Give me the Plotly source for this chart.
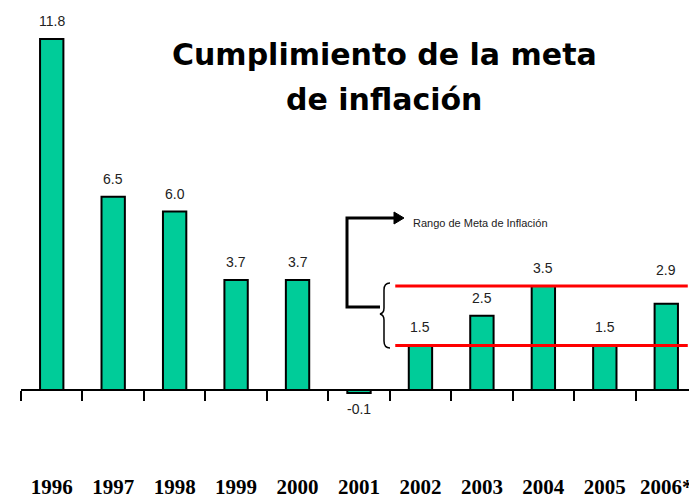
import plotly.graph_objects as go

# ---- data ----
years = ["1996", "1997", "1998", "1999", "2000", "2001", "2002", "2003", "2004", "2005", "2006*"]
inflation = [11.8, 6.5, 6.0, 3.7, 3.7, -0.1, 1.5, 2.5, 3.5, 1.5, 2.9]
target_low = 1.5
target_high = 3.5
title_lines = ["Cumplimiento de la meta", "de inflación"]
range_label = "Rango de Meta de Inflación"

# ---- layout geometry (pixels of the 697x501 page; the page body has an 8px margin) ----
OFF = 8
FIG_W, FIG_H = 697 - OFF, 501 - OFF
M_L, M_R, M_T, M_B = 21 - OFF, 0, 0, 102
PW = FIG_W - M_L - M_R
PH = FIG_H - M_T - M_B
Y_MIN, Y_MAX = -0.3, 12.84


def px_x(px):
    return (px - OFF - M_L) / PW


def px_y(py):
    return (M_T + PH - (py - OFF)) / PH


fig = go.Figure()
fig.add_trace(go.Bar(
    x=years, y=inflation, width=0.38,
    marker=dict(color="#00CC99", line=dict(color="black", width=2)),
    hoverinfo="x+y", showlegend=False,
))

LABEL_FONT = "Liberation Sans Narrow, Arial Narrow, Liberation Sans, Arial"

# value labels
annotations = []
for i, (yr, v) in enumerate(zip(years, inflation)):
    if v < 0:
        shift = -16
    elif yr == "2006*":
        shift = 34
    else:
        shift = 18
    annotations.append(dict(
        x=i, y=v, xref="x", yref="y", text=f"{v:.1f}", showarrow=False,
        yshift=shift, yanchor="middle",
        font=dict(family=LABEL_FONT, size=14, color="#222222"),
    ))

# title
for line, py in zip(title_lines, (54, 99)):
    annotations.append(dict(x=px_x(384), y=px_y(py), xref="paper", yref="paper", text=f"<b>{line}</b>",
                            showarrow=False, yanchor="middle", xanchor="center",
                            font=dict(family="DejaVu Sans", size=30, color="black")))
# range label
annotations.append(dict(x=px_x(411), y=px_y(223), xref="paper", yref="paper", text=range_label,
                        showarrow=False, yanchor="middle", xanchor="left",
                        font=dict(family=LABEL_FONT, size=11, color="#222222")))

shapes = []
# target range red lines
i0 = years.index("2002") - 0.41
i1 = years.index("2006*") + 0.35
for val in (target_low, target_high):
    shapes.append(dict(type="line", xref="x", yref="y", x0=i0, x1=i1, y0=val, y1=val,
                       line=dict(color="#FF0000", width=3)))


def P(x, y):
    return f"{px_x(x):.5f},{px_y(y):.5f}"


# curly brace
brace = (f"M {P(390,283)} Q {P(384,283)} {P(384,290)} L {P(384,308)} Q {P(384,313)} {P(380,314)} "
         f"Q {P(384,315)} {P(384,320)} L {P(384,341)} Q {P(384,348)} {P(390,348)}")
shapes.append(dict(type="path", xref="paper", yref="paper", path=brace, line=dict(color="black", width=1.5)))
# connector
conn = f"M {P(380,307)} L {P(347,307)} L {P(347,218)} L {P(396,218)}"
shapes.append(dict(type="path", xref="paper", yref="paper", path=conn, line=dict(color="black", width=3)))
head = f"M {P(394,212)} L {P(404,218)} L {P(394,224)} Z"
shapes.append(dict(type="path", xref="paper", yref="paper", path=head, fillcolor="black",
                   line=dict(color="black", width=1)))

fig.update_layout(
    width=FIG_W, height=FIG_H,
    margin=dict(l=M_L, r=M_R, t=M_T, b=M_B, pad=0, autoexpand=False),
    paper_bgcolor="white", plot_bgcolor="white",
    annotations=annotations, shapes=shapes,
    xaxis=dict(
        type="category", anchor="free", position=(0 - Y_MIN) / (Y_MAX - Y_MIN),
        automargin=False,
        showline=True, linecolor="black", linewidth=2,
        ticks="outside", tickson="boundaries", ticklen=10, tickwidth=2, tickcolor="black",
        showgrid=False, zeroline=False, tickangle=0,
        tickfont=dict(family="Liberation Serif, Times New Roman", size=21, color="black"),
        tickprefix="<b>", ticksuffix="</b>",
        ticklabelstandoff=78,
        range=[-0.5, len(years) - 0.5],
    ),
    yaxis=dict(visible=False, range=[Y_MIN, Y_MAX], showgrid=False, zeroline=False, automargin=False),
    bargap=0.6,
)

fig.write_html("out.html")
